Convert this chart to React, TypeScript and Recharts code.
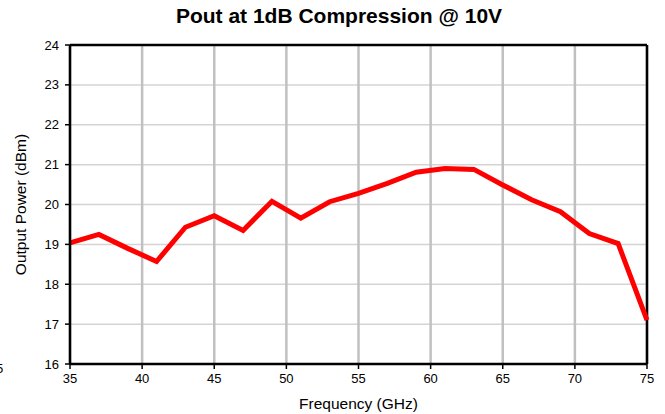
import { CartesianGrid, Label, Line, LineChart, ReferenceLine, XAxis, YAxis } from 'recharts';

const frequency = [35, 37, 39, 41, 43, 45, 47, 49, 51, 53, 55, 57, 59, 61, 63, 65, 67, 69, 71, 73, 75];
const pout = [19.04, 19.25, 18.9, 18.57, 19.43, 19.72, 19.35, 20.08, 19.66, 20.07, 20.28, 20.53, 20.81, 20.9, 20.88, 20.49, 20.12, 19.82, 19.27, 19.02, 17.1];
const xTicks = [35, 40, 45, 50, 55, 60, 65, 70, 75];
const yTicks = [16, 17, 18, 19, 20, 21, 22, 23, 24];

const data = frequency.map((f, i) => ({ f, p: pout[i] }));
const font = 'Liberation Sans, Arial, sans-serif';

export default function App() {
  return (
    <div style={{ position: 'absolute', left: 0, top: 0, width: 665, height: 414, background: '#fff', fontFamily: font }}>
      <div style={{ position: 'absolute', left: 0, top: 4, width: 678, textAlign: 'center', fontSize: 21, fontWeight: 'bold', color: '#000' }}>
        Pout at 1dB Compression @ 10V
      </div>
      <div style={{ position: 'absolute', left: -4, top: 361, fontSize: 13, color: '#000' }}>5</div>
      <LineChart width={665} height={414} data={data} margin={{ top: 45, right: 18, left: 0, bottom: 0 }}>
        <CartesianGrid horizontal vertical={false} stroke="#d4d4d4" strokeWidth={1.5} />
        <CartesianGrid horizontal={false} vertical stroke="#c0c0c0" strokeWidth={2.5} />
        <XAxis
          dataKey="f"
          type="number"
          domain={[35, 75]}
          ticks={xTicks}
          height={50}
          axisLine={{ stroke: '#000', strokeWidth: 2.5 }}
          tickLine={{ stroke: '#000', strokeWidth: 1.5 }}
          tickSize={5}
          tickMargin={5}
          tick={{ fill: '#000', fontSize: 13, fontFamily: font }}
        >
          <Label value="Frequency (GHz)" position="insideBottom" offset={5} style={{ fill: '#000', fontSize: 15.5, fontFamily: font }} />
        </XAxis>
        <YAxis
          type="number"
          domain={[16, 24]}
          ticks={yTicks}
          width={70}
          axisLine={{ stroke: '#000', strokeWidth: 2.5 }}
          tickLine={{ stroke: '#000', strokeWidth: 1.5 }}
          tickSize={5}
          tickMargin={6}
          tick={{ fill: '#000', fontSize: 13, fontFamily: font }}
        >
          <Label value="Output Power (dBm)" angle={-90} position="insideLeft" offset={20} style={{ fill: '#000', fontSize: 15.5, fontFamily: font, textAnchor: 'middle' }} />
        </YAxis>
        <ReferenceLine y={24} stroke="#000" strokeWidth={2.5} />
        <ReferenceLine x={75} stroke="#000" strokeWidth={2.5} />
        <Line type="linear" dataKey="p" stroke="#ff0000" strokeWidth={5} dot={false} isAnimationActive={false} />
      </LineChart>
    </div>
  );
}
